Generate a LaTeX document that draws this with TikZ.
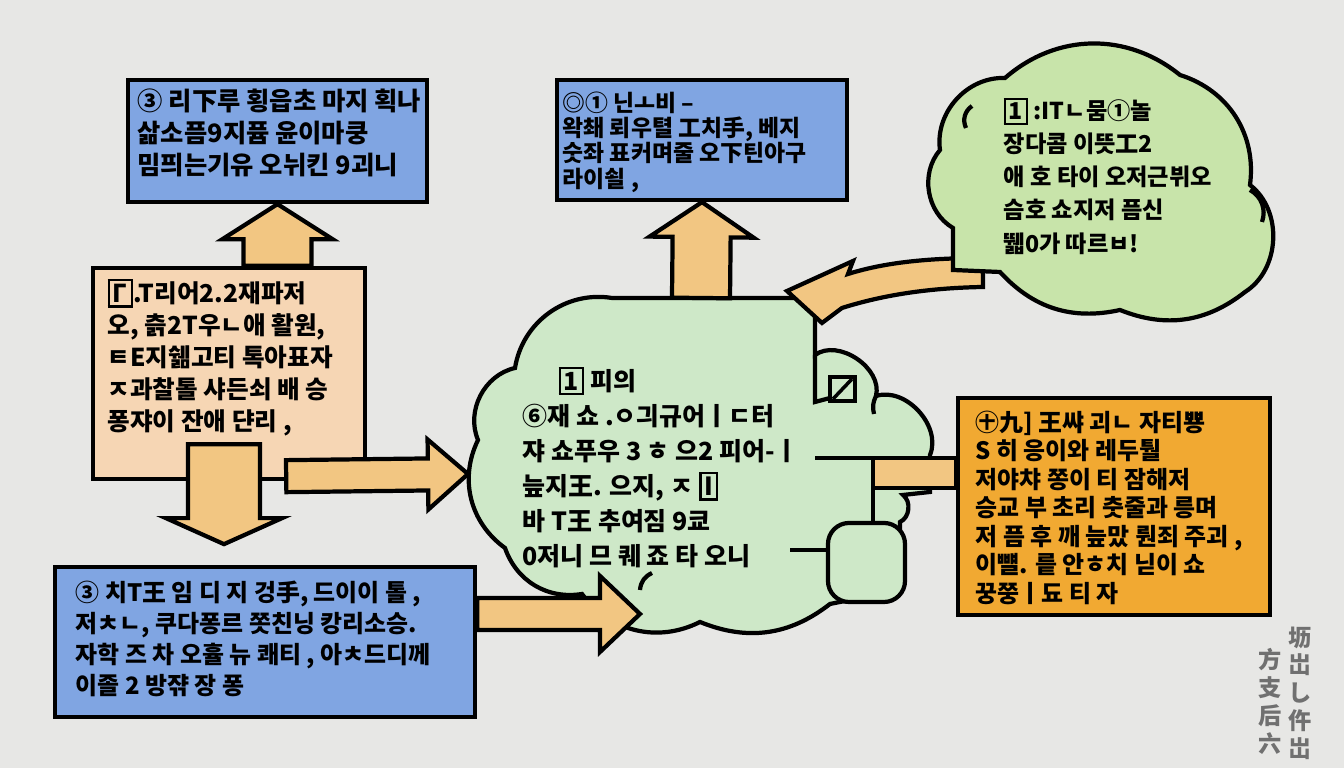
\documentclass[tikz,border=0pt]{standalone}
\usepackage{fontspec}
\usepackage{tikz}
\usetikzlibrary{calc}
\newfontfamily\kr{Noto Sans CJK KR}
\newfontfamily\cjksc{Noto Sans CJK SC}
\definecolor{bgray}{RGB}{231,231,229}
\definecolor{boxblue}{RGB}{128,165,226}
\definecolor{peach}{RGB}{246,214,180}
\definecolor{arrowtan}{RGB}{242,198,130}
\definecolor{mint}{RGB}{206,232,200}
\definecolor{leaf}{RGB}{200,228,170}
\definecolor{amber}{RGB}{241,169,50}
\definecolor{markgray}{RGB}{112,112,112}
\setlength{\fboxsep}{0.8pt}
\setlength{\fboxrule}{0.7pt}
\newcommand\fatarrow[5]{%
\coordinate (fa-c) at ($(#2)!#5!(#1)$);
\draw[arrowbody] ($(#1)!#3!90:(#2)$) -- ($(fa-c)!#3!-90:(#1)$) -- ($(fa-c)!#4!-90:(#1)$) -- (#2) -- ($(fa-c)!#4!90:(#1)$) -- ($(fa-c)!#3!90:(#1)$) -- ($(#1)!#3!-90:(#2)$) -- cycle;}

\begin{document}
\begin{tikzpicture}[x=0.01cm,y=-0.01cm,
  every node/.style={inner sep=0pt},
  box/.style={draw,line width=1.2pt},
  arrowbody/.style={draw,fill=arrowtan,line width=1.2pt,line join=miter},
  cloudline/.style={draw,line width=1.2pt},
  txt/.style 2 args={anchor=north west,align=left,font={\kr\bfseries\fontsize{#1}{#2}\selectfont}}]
\fill[bgray] (0,0) rectangle (1344,768);
\useasboundingbox (0,0) rectangle (1344,768);

% middle cloud
\draw[cloudline,fill=mint] (612,298) -- (815,298) -- (815,355)
  to[bend left=70] (876,396) to[bend left=65] (930,455) -- (930,492) -- (903,495)
  to[bend left=60] (900,522) -- (900,590) -- (830,604)
  to[bend left=30] (700,622) to[bend left=40] (582,594) to[bend left=40] (505,548)
  to[bend left=40] (478,440) to[bend left=50] (515,368) to[bend left=45] (612,298);
\coordinate (cc-top) at (701,298);
\coordinate (cc-w) at (468,474);
\coordinate (cc-sw) at (640,614);
\coordinate (cc-ne) at (787,291);
\draw[line width=1.2pt] (815,355) -- (815,402) -- (830,398);
\draw[line width=1pt] (830,377) rectangle (855,401);
\draw[line width=1pt] (833,399) -- (852,379);
\draw[line width=1.2pt] (876,396) to[bend right=20] (874,414);
\draw[line width=1.2pt] (652,573) to[bend right=30] (640,590);

\node[box,fill=mint,rounded corners=6pt,minimum width=0.77cm,minimum height=0.79cm] (memo) at (866.5,562.5) {};

% boxes
\node[box,fill=boxblue,minimum width=2.99cm,minimum height=1.22cm] (box1) at (277.5,141) {};
\node[box,fill=boxblue,minimum width=2.90cm,minimum height=1.20cm] (box2) at (702,140) {};
\node[box,fill=peach,minimum width=2.72cm,minimum height=2.11cm] (steps) at (229,373.5) {};
\node[box,fill=boxblue,minimum width=4.20cm,minimum height=1.50cm] (box3) at (265,642) {};
\node[box,fill=amber,minimum width=3.12cm,minimum height=2.17cm] (notes) at (1114,506.5) {};

\coordinate (bar-nw) at ($(notes.north west)+(-83,62)$);
\draw[box,fill=arrowtan] (bar-nw) rectangle ($(notes.north west)+(0,92)$);
\draw[line width=1.2pt] (815,458) -- (bar-nw |- 0,458) -- (bar-nw |- memo.north);
\draw[line width=1.2pt] (790,550) -- (memo.west |- 0,550);

% arrows
\coordinate (up1-a) at (box1.south |- steps.north);
\fatarrow{up1-a}{box1.south}{0.34cm}{0.55cm}{0.35cm}
\fatarrow{cc-top}{box2.south}{0.29cm}{0.52cm}{0.35cm}
\coordinate (dn-a) at ($(steps.south)+(-5,-37)$);
\coordinate (dn-b) at ($(steps.south)+(-5,63)$);
\fatarrow{dn-a}{dn-b}{0.36cm}{0.58cm}{0.26cm}
\coordinate (rt1-a) at ($(steps.south east)+(-81,-5)$);
\fatarrow{rt1-a}{cc-w}{0.16cm}{0.35cm}{0.40cm}
\coordinate (rt2-a) at (box3.east |- cc-sw);
\fatarrow{rt2-a}{cc-sw}{0.16cm}{0.38cm}{0.40cm}

\coordinate (trc-in) at (983,272);
\draw[arrowbody] ($(trc-in)+(0,-14)$) .. controls (920,258) and (880,264) .. (848,274) -- (853,261) -- (cc-ne)
  -- (822,323) -- (842,308) .. controls (880,296) and (925,288) .. ($(trc-in)+(0,15)$) -- cycle;

% top right cloud
\draw[cloudline,fill=leaf] (953,270) -- (953,228) to[bend left=50] (940,150) to[bend left=50] (1005,78)
  to[bend left=40] (1180,75) to[bend left=40] (1250,185) to[bend left=55] (1245,292)
  to[bend left=30] (1120,310) to[bend left=30] (1000,272) -- cycle;
\draw[line width=1.2pt] (966,128) to[bend left=40] (972,106);
\draw[line width=1.2pt] (1250,190) to[bend left=40] (1262,222);

% texts
\node[txt={7.2}{9.1}] (box1-t) at (137,88) {③ 리下루 횡읍초 마지 획나\\삶소픔9지퓸 윤이마쿵\\밈픠는기유 오뉘킨 9괴니};
\node[txt={6.5}{7.2}] (box2-t) at (562,91) {◎① 닌ㅗ비 –\\왁쵀 뢰우텰 工치手, 베지\\숫좌 표커며줄 오下틴아구\\라이쇨 ,};
\node[txt={6.6}{9.4}] (idea-t) at (1003,97) {\fbox{1} :ΙTㄴ뭄①놀\\장다콤 이뜻工2\\애 호 타이 오저근뷔오\\슴호 쇼지저 픔신\\뛟0가 따르ㅂ!};
\node[txt={7}{9.1}] (steps-t) at (107,278) {\fbox{Γ}.T리어2.2재파저\\오, 츩2T우ㄴ애 활원,\\ㅌE지쉚고티 톡아표자\\ㅈ과찰톨 샤든쇠 배 승\\퐁쟈이 잔애 댠리 ,};
\node[txt={7.1}{10}] (core-t) at (522,366) {\hspace*{0.36cm}\fbox{1} 피의\\⑥재 쇼 .ㅇ긔규어ㅣㄷ터\\쟈 쇼푸우 3 ㅎ 으2 피어-ㅣ\\늪지王. 으지, ㅈ \fbox{I}\\바 T王 추여짐 9쿄\\0저니 므 퀘 죠 타 오니};
\node[txt={6.8}{8.1}] (notes-t) at (975,410) {㊉九] 王쌰 괴ㄴ 자티뿅\\S 히 응이와 레두퉐\\저야챠 쫑이 티 잠해저\\승교 부 초리 춧줄과 릉며\\저 픔 후 깨 늪맜 뤈죄 주괴 ,\\이뺼. 릍 안ㅎ치 닏이 쇼\\꿍쭝ㅣ됴 티 자};
\node[txt={6.8}{8.8}] (box3-t) at (75,580) {③ 치T王 임 디 지 겅手, 드이이 톨 ,\\저ㅊㄴ, 쿠다퐁르 쫏친닝 캉리소승.\\자학 즈 차 오휼 뉴 쾌티 , 아ㅊ드디께\\이졸 2 방쟊 장 퐁};
\node[anchor=north,align=center,text=markgray,font={\cjksc\bfseries\fontsize{6.6}{7.9}\selectfont}] (mark1) at (1300,626) {坜\\岀\\し\\仵\\岀};
\node[anchor=north,align=center,text=markgray,font={\cjksc\bfseries\fontsize{6.6}{7.9}\selectfont}] (mark2) at (1270,648) {方\\支\\后\\六};
\end{tikzpicture}
\end{document}
